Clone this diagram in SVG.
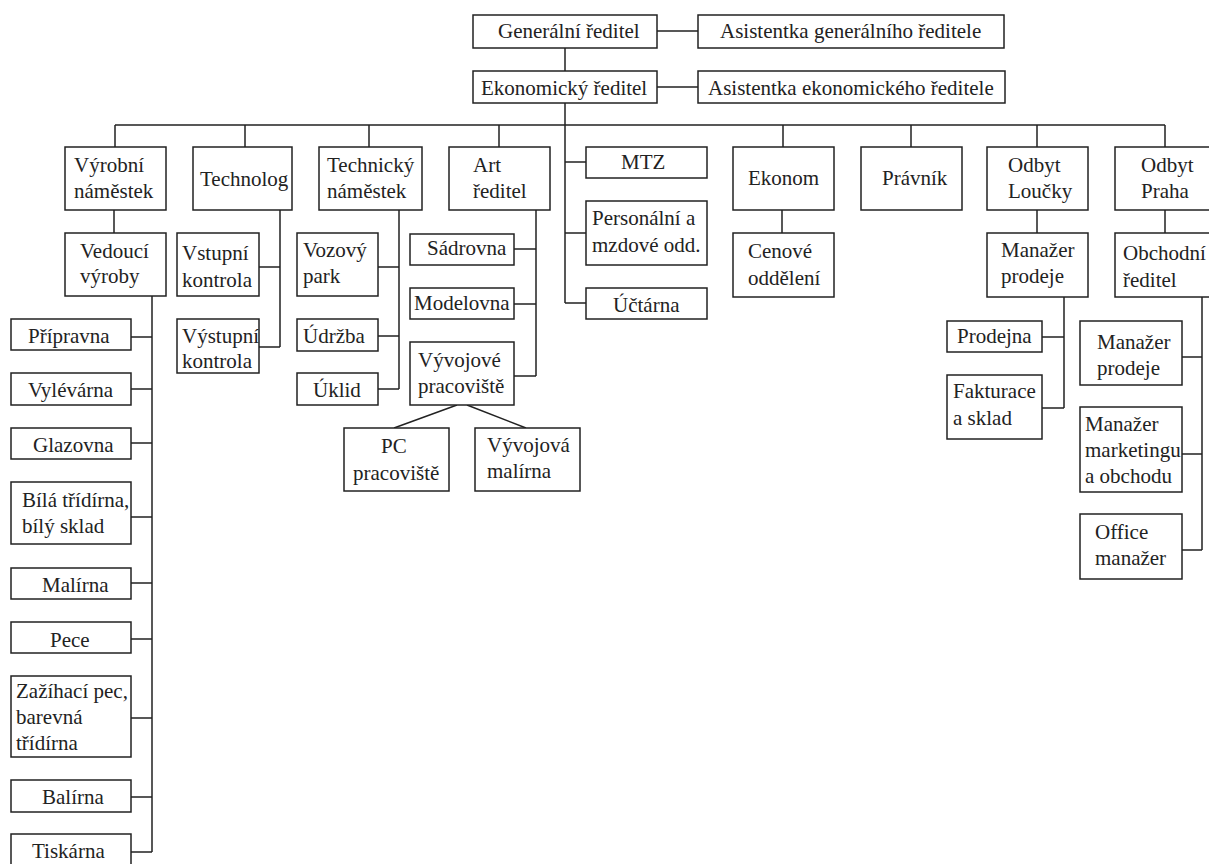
<svg xmlns="http://www.w3.org/2000/svg" width="1209" height="864" viewBox="0 0 1209 864">
<style>
rect{fill:#fff;stroke:#222;stroke-width:1.5}
text{font-family:'Liberation Serif','DejaVu Serif',serif;font-size:21px;fill:#222}
#connectors path{fill:none;stroke:#222;stroke-width:1.5}
</style>
<rect x="0" y="0" width="1209" height="864" style="stroke:none"/>
<g id="connectors">
<path d="M565 48V71M657 31H698M657 87H698M565 103V303M565 162H586M565 233H586M565 303H586"/>
<path d="M115 125H1165M115 125V147M245 125V147M369 125V147M499 125V147M783 125V147M911 125V147M1037 125V147M1165 125V147"/>
<path d="M114 210V233M152 296V852M131 337H152M131 389H152M131 443H152M131 517H152M131 583H152M131 639H152M131 718H152M131 797H152M131 852H152"/>
<path d="M280 210V347M259 267H280M259 347H280"/>
<path d="M399 210V389M378 267H399M378 336H399M378 389H399"/>
<path d="M536 210V376M514 249H536M514 304H536M514 376H536"/>
<path d="M457 405L394 428M467 405L526 428"/>
<path d="M782 210V233M1037 210V233M1165 210V233"/>
<path d="M1064 297V408M1042 337H1064M1042 408H1064"/>
<path d="M1202 297V550M1182 357H1202M1182 454H1202M1182 550H1202"/>
</g>
<g font-family="Liberation Serif, serif">
<g id="generalni"><rect x="473" y="15" width="184" height="33"/><text x="498" y="38">Generální ředitel</text></g>
<g id="asist-gen"><rect x="698" y="15" width="306" height="33"/><text x="720" y="38">Asistentka generálního ředitele</text></g>
<g id="ekonomicky"><rect x="473" y="71" width="184" height="32"/><text x="481" y="95">Ekonomický ředitel</text></g>
<g id="asist-ek"><rect x="698" y="71" width="307" height="32"/><text x="708" y="95">Asistentka ekonomického ředitele</text></g>
<g id="vyrobni"><rect x="65" y="147" width="101" height="63"/><text x="74" y="172">Výrobní</text><text x="74" y="198">náměstek</text></g>
<g id="technolog"><rect x="193" y="147" width="99" height="63"/><text x="200" y="186">Technolog</text></g>
<g id="technicky"><rect x="319" y="147" width="103" height="63"/><text x="327" y="172">Technický</text><text x="327" y="198">náměstek</text></g>
<g id="art"><rect x="449" y="147" width="101" height="63"/><text x="473" y="172">Art</text><text x="473" y="198">ředitel</text></g>
<g id="mtz"><rect x="586" y="147" width="121" height="31"/><text x="621" y="169">MTZ</text></g>
<g id="personalni"><rect x="586" y="201" width="121" height="64"/><text x="592" y="225">Personální a</text><text x="592" y="252">mzdové odd.</text></g>
<g id="uctarna"><rect x="586" y="288" width="121" height="31"/><text x="613" y="312">Účtárna</text></g>
<g id="ekonom"><rect x="733" y="147" width="101" height="63"/><text x="748" y="185">Ekonom</text></g>
<g id="pravnik"><rect x="861" y="147" width="101" height="63"/><text x="882" y="185">Právník</text></g>
<g id="odbyt-loucky"><rect x="987" y="147" width="101" height="63"/><text x="1008" y="172">Odbyt</text><text x="1008" y="198">Loučky</text></g>
<g id="odbyt-praha"><rect x="1115" y="147" width="101" height="63"/><text x="1141" y="172">Odbyt</text><text x="1141" y="198">Praha</text></g>
<g id="vedouci"><rect x="65" y="233" width="101" height="63"/><text x="80" y="258">Vedoucí</text><text x="80" y="283">výroby</text></g>
<g id="vstupni"><rect x="177" y="233" width="82" height="63"/><text x="182" y="260">Vstupní</text><text x="182" y="287">kontrola</text></g>
<g id="vystupni"><rect x="177" y="319" width="82" height="54"/><text x="182" y="343">Výstupní</text><text x="182" y="368">kontrola</text></g>
<g id="vozovy"><rect x="297" y="233" width="81" height="63"/><text x="303" y="257">Vozový</text><text x="303" y="283">park</text></g>
<g id="udrzba"><rect x="297" y="319" width="81" height="32"/><text x="303" y="343">Údržba</text></g>
<g id="uklid"><rect x="297" y="373" width="81" height="32"/><text x="313" y="397">Úklid</text></g>
<g id="sadrovna"><rect x="410" y="234" width="104" height="31"/><text x="427" y="255">Sádrovna</text></g>
<g id="modelovna"><rect x="410" y="288" width="104" height="31"/><text x="414" y="310">Modelovna</text></g>
<g id="vyvojove"><rect x="410" y="342" width="104" height="63"/><text x="418" y="367">Vývojové</text><text x="418" y="393">pracoviště</text></g>
<g id="pc"><rect x="344" y="428" width="105" height="63"/><text x="381" y="453">PC</text><text x="353" y="480">pracoviště</text></g>
<g id="vyvojova-malirna"><rect x="475" y="428" width="105" height="63"/><text x="487" y="452">Vývojová</text><text x="487" y="478">malírna</text></g>
<g id="cenove"><rect x="733" y="233" width="101" height="64"/><text x="748" y="258">Cenové</text><text x="748" y="285">oddělení</text></g>
<g id="manazer-prodeje-l"><rect x="987" y="233" width="101" height="64"/><text x="1001" y="257">Manažer</text><text x="1001" y="283">prodeje</text></g>
<g id="obchodni"><rect x="1115" y="233" width="101" height="64"/><text x="1123" y="260">Obchodní</text><text x="1123" y="287">ředitel</text></g>
<g id="prodejna"><rect x="947" y="321" width="95" height="31"/><text x="957" y="343">Prodejna</text></g>
<g id="fakturace"><rect x="947" y="375" width="95" height="64"/><text x="953" y="398">Fakturace</text><text x="953" y="425">a sklad</text></g>
<g id="manazer-prodeje-p"><rect x="1080" y="321" width="102" height="64"/><text x="1097" y="349">Manažer</text><text x="1097" y="375">prodeje</text></g>
<g id="manazer-marketingu"><rect x="1080" y="407" width="102" height="85"/><text x="1085" y="431">Manažer</text><text x="1085" y="457">marketingu</text><text x="1085" y="483">a obchodu</text></g>
<g id="office"><rect x="1080" y="514" width="102" height="65"/><text x="1095" y="539">Office</text><text x="1095" y="565">manažer</text></g>
<g id="pripravna"><rect x="11" y="319" width="120" height="31"/><text x="28" y="343">Přípravna</text></g>
<g id="vylevarna"><rect x="11" y="373" width="120" height="32"/><text x="28" y="397">Vylévárna</text></g>
<g id="glazovna"><rect x="11" y="428" width="120" height="31"/><text x="33" y="452">Glazovna</text></g>
<g id="bila-tridirna"><rect x="11" y="482" width="120" height="62"/><text x="22" y="507">Bílá třídírna,</text><text x="22" y="533">bílý sklad</text></g>
<g id="malirna"><rect x="11" y="568" width="120" height="31"/><text x="42" y="592">Malírna</text></g>
<g id="pece"><rect x="11" y="622" width="120" height="31"/><text x="50" y="647">Pece</text></g>
<g id="zazihaci"><rect x="11" y="676" width="120" height="81"/><text x="16" y="698">Zažíhací pec,</text><text x="16" y="724">barevná</text><text x="16" y="750">třídírna</text></g>
<g id="balirna"><rect x="11" y="780" width="120" height="32"/><text x="42" y="804">Balírna</text></g>
<g id="tiskarna"><rect x="11" y="834" width="120" height="32"/><text x="32" y="858">Tiskárna</text></g>
</g>
</svg>
